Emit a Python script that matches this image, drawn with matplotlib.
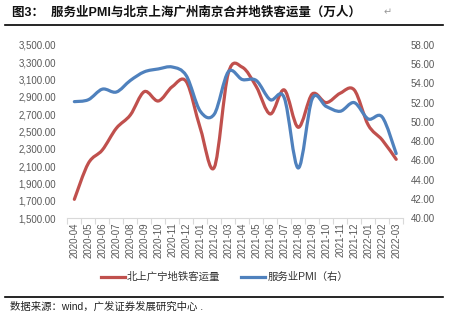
import numpy as np
import matplotlib
matplotlib.use('Agg')
import matplotlib.pyplot as plt
from matplotlib.path import Path
from matplotlib.patches import PathPatch
from matplotlib.lines import Line2D
from matplotlib.ticker import FuncFormatter

plt.rcParams['font.family'] = ['Liberation Sans', 'Noto Sans CJK SC', 'DejaVu Sans']

months = ['2020-04', '2020-05', '2020-06', '2020-07', '2020-08', '2020-09',
          '2020-10', '2020-11', '2020-12', '2021-01', '2021-02', '2021-03',
          '2021-04', '2021-05', '2021-06', '2021-07', '2021-08', '2021-09',
          '2021-10', '2021-11', '2021-12', '2022-01', '2022-02', '2022-03']
metro = [1716, 2132, 2286, 2537, 2690, 2960, 2852, 3018, 3076, 2537, 2085, 3173,
         3242, 3018, 2702, 2980, 2548, 2933, 2833, 2942, 2980, 2575, 2402, 2178]
pmi = [52.1, 52.3, 53.4, 53.1, 54.3, 55.2, 55.5, 55.7, 54.8, 51.1, 50.8, 55.2,
       54.4, 54.3, 52.3, 52.5, 45.2, 52.4, 51.6, 51.1, 52.0, 50.3, 50.5, 46.7]

RED = '#C0504D'
BLUE = '#4F81BD'
GRAY = '#595959'


def smooth_path(xs, ys):
    # excel-style smoothed line: bezier segments with catmull-rom control points
    n = len(xs)
    pts = list(zip(xs, ys))
    verts = [pts[0]]
    codes = [Path.MOVETO]
    for i in range(n - 1):
        p0 = pts[max(i - 1, 0)]
        p1 = pts[i]
        p2 = pts[i + 1]
        p3 = pts[min(i + 2, n - 1)]
        c1 = (p1[0] + (p2[0] - p0[0]) / 6, p1[1] + (p2[1] - p0[1]) / 6)
        c2 = (p2[0] - (p3[0] - p1[0]) / 6, p2[1] - (p3[1] - p1[1]) / 6)
        verts += [c1, c2, p2]
        codes += [Path.CURVE4] * 3
    return Path(verts, codes)


fig = plt.figure(figsize=(4.49, 3.23), dpi=100)
ax = fig.add_axes([0.150, 0.325, 0.748, 0.536])
ax2 = ax.twinx()

x = np.arange(len(months))
ax.add_patch(PathPatch(smooth_path(x, metro), fill=False, edgecolor=RED,
                       lw=2.3, capstyle='round', joinstyle='round'))
ax2.add_patch(PathPatch(smooth_path(x, pmi), fill=False, edgecolor=BLUE,
                        lw=2.3, capstyle='round', joinstyle='round'))

ax.set_xlim(-0.5, len(months) - 0.5)
ax.set_ylim(1500, 3500)
ax2.set_ylim(40, 58)
ax.set_yticks(np.arange(1500, 3501, 200))
ax2.set_yticks(np.arange(40, 59, 2))
ax.yaxis.set_major_formatter(FuncFormatter(lambda v, p: f'{v:,.2f}'))
ax2.yaxis.set_major_formatter(FuncFormatter(lambda v, p: f'{v:.2f}'))

ax.set_xticks(x)
ax.set_xticklabels(months, rotation=90)
ax.set_xticks(np.arange(-0.5, len(months), 1), minor=True)
ax.tick_params(axis='x', which='major', length=0, pad=3, labelsize=7, labelcolor=GRAY)
ax.tick_params(axis='x', which='minor', length=4, color='#D9D9D9', width=0.8)
ax.tick_params(axis='y', length=0, pad=8, labelsize=7, labelcolor=GRAY)
ax2.tick_params(axis='y', length=0, pad=5.5, labelsize=7, labelcolor=GRAY)

for a in (ax, ax2):
    for s in ('top', 'left', 'right'):
        a.spines[s].set_visible(False)
    a.spines['bottom'].set_color('#D9D9D9')
    a.spines['bottom'].set_linewidth(0.8)
ax2.spines['bottom'].set_visible(False)

handles = [Line2D([], [], color=RED, lw=2.3),
           Line2D([], [], color=BLUE, lw=2.3)]
fig.legend(handles, ['北上广宁地铁客运量', '服务业PMI（右）'], loc='center',
           bbox_to_anchor=(0.5, 0.142), ncol=2, frameon=False, fontsize=7.5,
           handlelength=2.3, handletextpad=0.2, columnspacing=2.0,
           labelcolor='#333333')

# title, rules and source note
fig.text(0.027, 0.962, '图3：  服务业PMI与北京上海广州南京合并地铁客运量（万人）',
         fontsize=9, fontweight='bold', va='center', ha='left', color='#111111')
fig.text(0.855, 0.962, '↵', fontsize=7, va='center', ha='left', color='#999999')
fig.add_artist(Line2D([0.011, 0.987], [0.922, 0.922], color='black', lw=1.2))
fig.add_artist(Line2D([0.011, 0.987], [0.080, 0.080], color='black', lw=1.2))
fig.text(0.022, 0.049, '数据来源：wind，广发证券发展研究中心 .', fontsize=7.5,
         va='center', ha='left', color='#222222')

fig.savefig('out.png', dpi=100)
